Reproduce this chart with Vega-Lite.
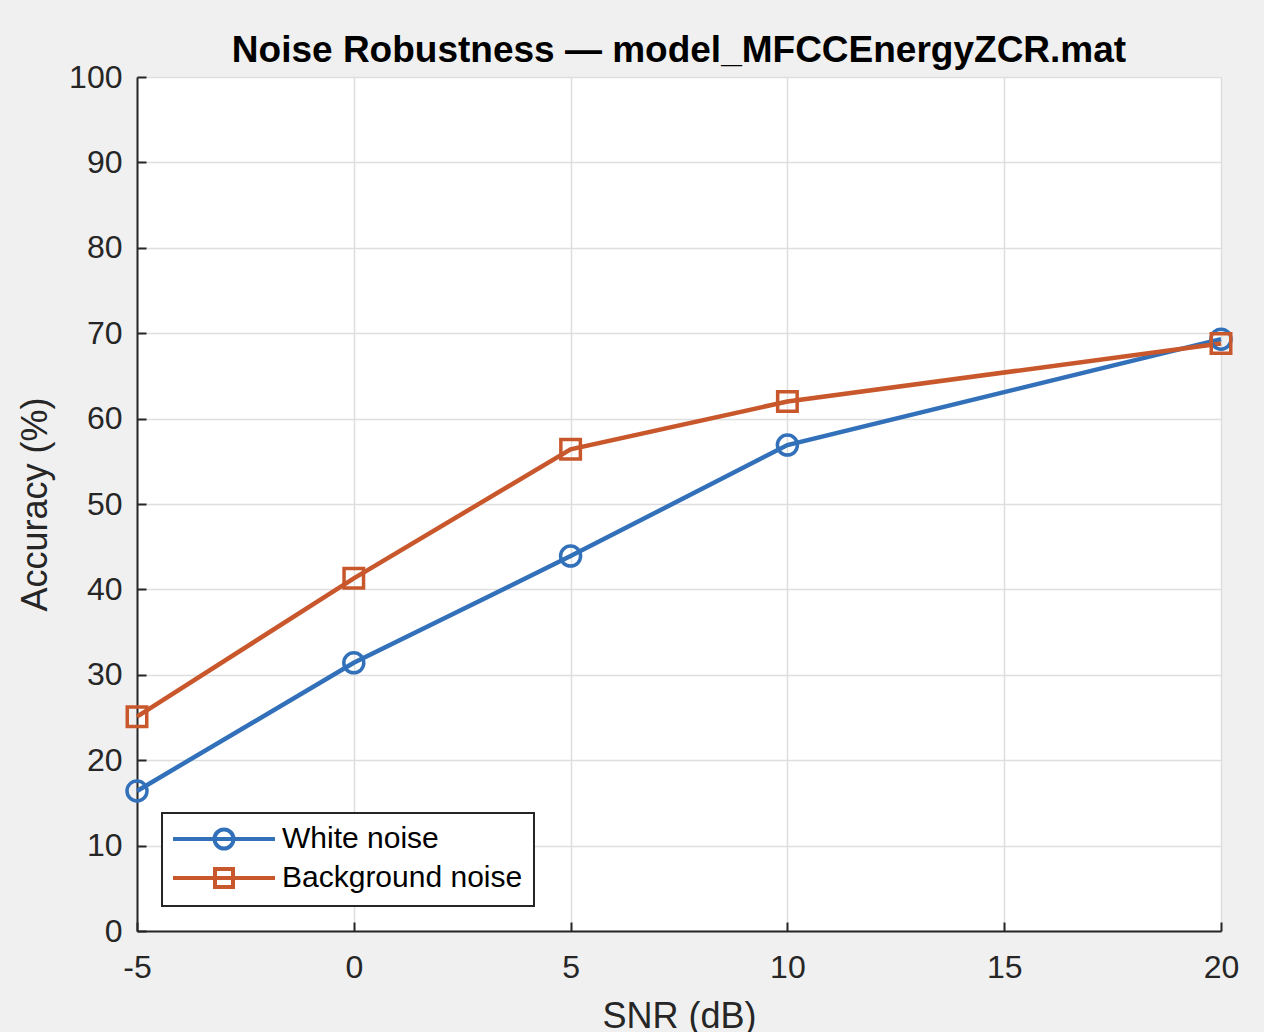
{
  "$schema": "https://vega.github.io/schema/vega-lite/v6.json",
  "autosize": "none",
  "width": 1084,
  "height": 854,
  "padding": {"left": 137, "top": 77, "right": 43, "bottom": 101},
  "background": "#f0f0f0",
  "title": {
    "text": "Noise Robustness — model_MFCCEnergyZCR.mat",
    "font": "Liberation Sans",
    "fontSize": 37,
    "fontWeight": "bold",
    "color": "#000000",
    "anchor": "middle",
    "frame": "group",
    "baseline": "alphabetic",
    "offset": -38
  },
  "data": {
    "values": [
      {"snr": -5, "acc": 16.4, "series": "White noise"},
      {"snr": 0, "acc": 31.4, "series": "White noise"},
      {"snr": 5, "acc": 43.9, "series": "White noise"},
      {"snr": 10, "acc": 56.9, "series": "White noise"},
      {"snr": 20, "acc": 69.3, "series": "White noise"},
      {"snr": -5, "acc": 25.1, "series": "Background noise"},
      {"snr": 0, "acc": 41.3, "series": "Background noise"},
      {"snr": 5, "acc": 56.4, "series": "Background noise"},
      {"snr": 10, "acc": 62.0, "series": "Background noise"},
      {"snr": 20, "acc": 68.8, "series": "Background noise"}
    ]
  },
  "encoding": {
    "x": {
      "field": "snr",
      "type": "quantitative",
      "title": "SNR (dB)",
      "scale": {"domain": [-5, 20], "nice": false, "zero": false},
      "axis": {"values": [-5, 0, 5, 10, 15, 20], "labelExpr": "'' + datum.value"}
    },
    "y": {
      "field": "acc",
      "type": "quantitative",
      "title": "Accuracy (%)",
      "scale": {"domain": [0, 100], "nice": false},
      "axis": {"values": [0, 10, 20, 30, 40, 50, 60, 70, 80, 90, 100], "labelExpr": "'' + datum.value"}
    },
    "color": {
      "field": "series",
      "type": "nominal",
      "scale": {"domain": ["White noise", "Background noise"], "range": ["#3271ba", "#c9572c"]},
      "legend": {
        "title": null,
        "orient": "bottom-left",
        "offset": 25,
        "symbolSize": 400,
        "symbolStrokeWidth": 4,
        "labelFont": "Liberation Sans",
        "labelFontSize": 30,
        "labelColor": "#000000",
        "labelOffset": 79,
        "labelLimit": 0,
        "padding": 11,
        "rowPadding": 4,
        "strokeColor": "#262626",
        "fillColor": "#ffffff",
        "cornerRadius": 0,
        "encode": {
          "legend": {"update": {"strokeWidth": {"value": 2}}},
          "symbols": {
            "update": {
              "shape": {"signal": "datum.value === 'White noise' ? 'M-1.5,0H8.7M4.55,0A0.95,0.95,0,1,1,2.65,0A0.95,0.95,0,1,1,4.55,0' : 'M-1.5,0H8.7M2.7,-0.9H4.5V0.9H2.7Z'"},
              "fill": {"value": "transparent"},
              "strokeWidth": {"value": 4}
            }
          }
        }
      }
    }
  },
  "layer": [
    {
      "mark": {"type": "line", "strokeWidth": 4.5},
      "encoding": {"detail": {"field": "series"}}
    },
    {
      "transform": [{"filter": "datum.series === 'White noise'"}],
      "mark": {"type": "point", "shape": "circle", "filled": false, "strokeWidth": 3.5, "size": 400, "opacity": 1}
    },
    {
      "transform": [{"filter": "datum.series === 'Background noise'"}],
      "mark": {"type": "point", "shape": "square", "filled": false, "strokeWidth": 3.5, "size": 380, "opacity": 1}
    }
  ],
  "config": {
    "view": {"fill": "#ffffff", "stroke": null},
    "axis": {
      "labelFont": "Liberation Sans",
      "labelFontSize": 32,
      "labelColor": "#262626",
      "titleFont": "Liberation Sans",
      "titleFontSize": 36,
      "titleFontWeight": "normal",
      "titleColor": "#262626",
      "domainColor": "#262626",
      "domainWidth": 2,
      "tickColor": "#262626",
      "tickWidth": 2,
      "tickSize": -9,
      "gridColor": "#dedede",
      "gridWidth": 1.5,
      "grid": true
    },
    "axisX": {"labelPadding": 30, "titlePadding": 16, "labelFlush": false},
    "axisY": {"labelPadding": 24, "titlePadding": 14}
  }
}
